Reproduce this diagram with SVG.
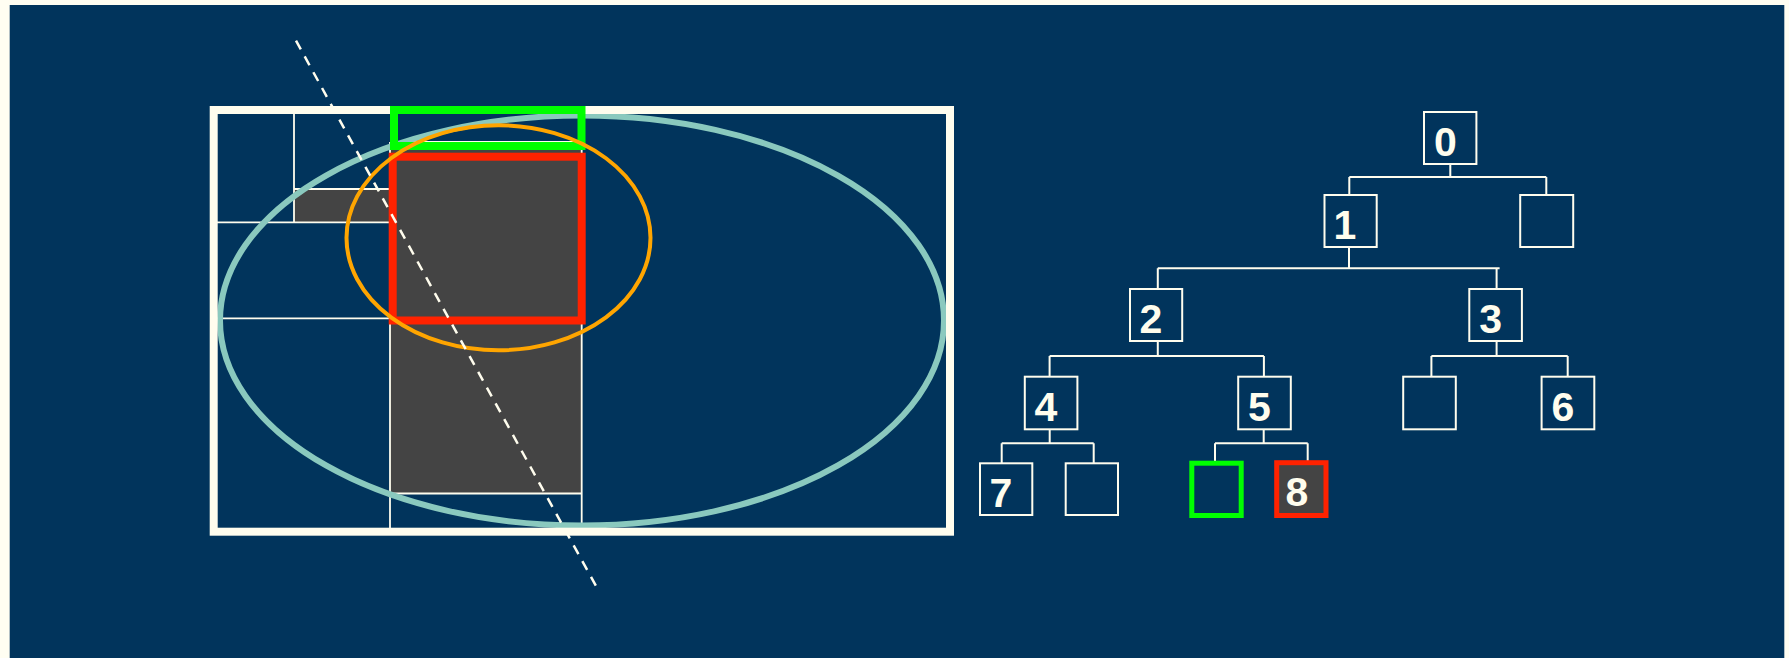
<svg xmlns="http://www.w3.org/2000/svg" width="1789" height="658" viewBox="0 0 1789 658">
<style>
.thin{stroke:#FFFDEE;stroke-width:1.8;fill:none}
.box{stroke:#FFFDEE;stroke-width:2;fill:none}
.lbl{font-family:"Liberation Sans",Arial,sans-serif;font-weight:bold;font-size:41px;fill:#FFFDEE;text-anchor:middle}
.conn{stroke:#FFFDEE;stroke-width:2;fill:none}
</style>
<rect x="0" y="0" width="1789" height="658" fill="#FFFEF2"/>
<rect x="9.7" y="5" width="1774.6" height="653" fill="#01345C"/>
<g id="grid">
<rect x="294" y="189" width="96" height="33" fill="#444444"/>
<rect x="390" y="142" width="192" height="351.5" fill="#444444"/>
<line class="thin" x1="294" y1="114" x2="294" y2="222.3"/>
<line class="thin" x1="294" y1="189" x2="390" y2="189"/>
<line class="thin" x1="217" y1="222.3" x2="390" y2="222.3"/>
<line class="thin" x1="217" y1="318.3" x2="390" y2="318.3"/>
<line class="thin" x1="390" y1="142" x2="390" y2="528"/>
<line class="thin" x1="581.7" y1="142" x2="581.7" y2="528"/>
<line class="thin" x1="390" y1="493.5" x2="581.7" y2="493.5"/>
<line class="thin" x1="390" y1="142" x2="581.7" y2="142"/>
</g>
<ellipse id="teal-ellipse" cx="582" cy="320.5" rx="362" ry="205" fill="none" stroke="#8AC9BE" stroke-width="6"/>
<rect id="outer-rect" x="213.7" y="110" width="736.3" height="421.7" fill="none" stroke="#FFFDEE" stroke-width="8"/>
<rect id="green-rect" x="394" y="110" width="187.5" height="36" fill="none" stroke="#00FF00" stroke-width="8"/>
<rect id="red-rect" x="392.7" y="156.7" width="189" height="163.8" fill="#444444" stroke="#FF2200" stroke-width="8"/>
<ellipse id="orange-ellipse" cx="498.5" cy="237.8" rx="152" ry="112.5" fill="none" stroke="#FFA500" stroke-width="4"/>
<line id="dashed" x1="296" y1="40.7" x2="596" y2="586" stroke="#FFFDEE" stroke-width="2.5" stroke-dasharray="10 8"/>
<g id="connectors">
<path class="conn" d="M1450.3 164V177M1349.3 177H1546.3M1349.3 177V195M1546.3 177V195"/>
<path class="conn" d="M1349 247V268.3M1157.8 268.3H1499.6M1157.8 268.3V289M1496.6 268.3V289"/>
<path class="conn" d="M1157.8 341V356M1049.6 356H1263.9M1049.6 356V376.7M1263.9 356V376.7"/>
<path class="conn" d="M1496.6 341V356M1431.4 356H1567.7M1431.4 356V376.7M1567.7 356V376.7"/>
<path class="conn" d="M1049.7 429.3V443.3M1001.7 443.3H1093.7M1001.7 443.3V463M1093.7 443.3V463"/>
<path class="conn" d="M1263.7 429.3V443.3M1215 443.3H1307.7M1215 443.3V463M1307.7 443.3V463"/>
</g>
<g id="node0"><rect class="box" x="1424" y="112" width="52.4" height="52"/><text class="lbl" x="1445.3" y="155.5">0</text></g>
<g id="node1"><rect class="box" x="1324.5" y="195" width="52.2" height="52"/><text class="lbl" x="1345" y="238.5">1</text></g>
<g id="node-r1"><rect class="box" x="1520.2" y="195" width="53" height="52"/></g>
<g id="node2"><rect class="box" x="1130" y="289" width="52.2" height="52"/><text class="lbl" x="1151" y="332.5">2</text></g>
<g id="node3"><rect class="box" x="1469.3" y="289" width="52.6" height="52"/><text class="lbl" x="1490.6" y="332.5">3</text></g>
<g id="node4"><rect class="box" x="1024.8" y="376.7" width="52.6" height="52.6"/><text class="lbl" x="1046" y="421">4</text></g>
<g id="node5"><rect class="box" x="1238.2" y="376.7" width="52.6" height="52.6"/><text class="lbl" x="1259.5" y="421">5</text></g>
<g id="node-r3"><rect class="box" x="1403.2" y="376.7" width="52.6" height="52.6"/></g>
<g id="node6"><rect class="box" x="1541.6" y="376.7" width="52.7" height="52.6"/><text class="lbl" x="1563" y="421">6</text></g>
<g id="node7"><rect class="box" x="980" y="463.3" width="52.3" height="51.7"/><text class="lbl" x="1001" y="506.5">7</text></g>
<g id="node-r4"><rect class="box" x="1065.7" y="463.3" width="52.3" height="51.7"/></g>
<g id="node-green"><rect x="1191.8" y="463.2" width="49.4" height="52.3" fill="none" stroke="#00FF00" stroke-width="5"/></g>
<g id="node8"><rect x="1276.7" y="462.7" width="49.3" height="52.8" fill="#444444" stroke="#FF2200" stroke-width="5"/><text class="lbl" x="1297" y="506">8</text></g>
</svg>
